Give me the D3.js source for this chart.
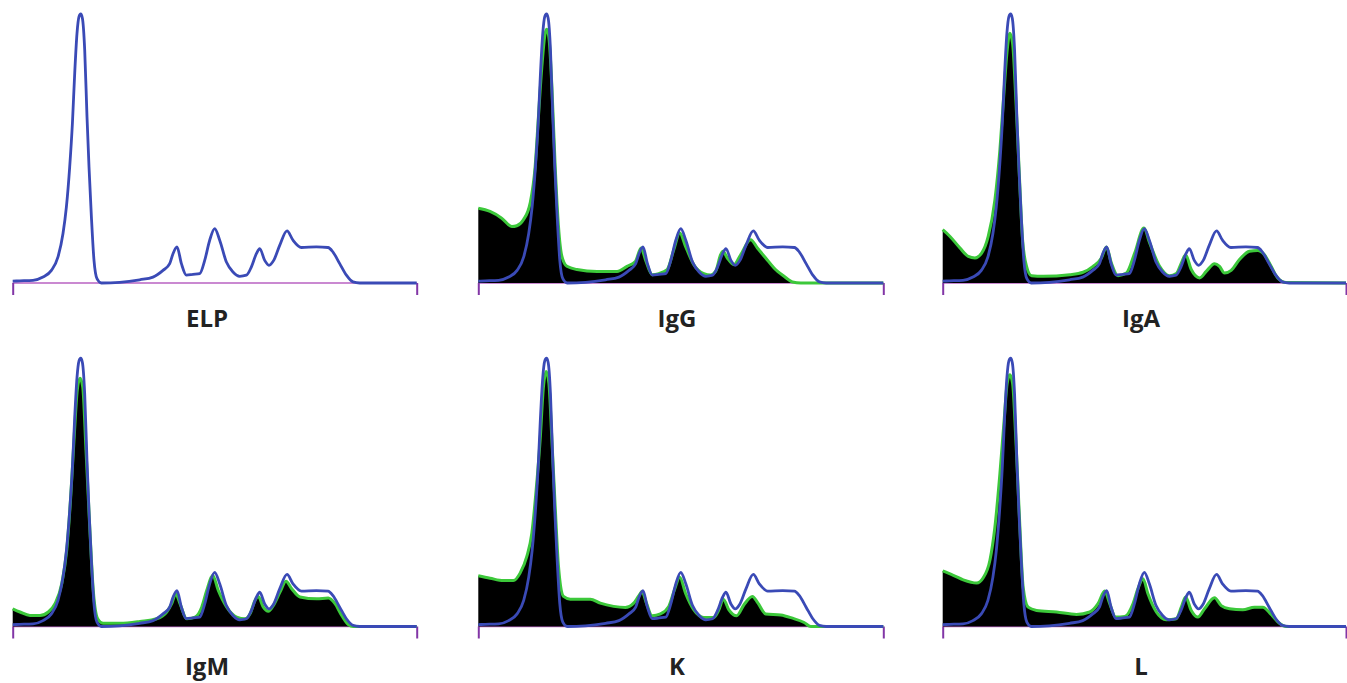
<!DOCTYPE html>
<html>
<head>
<meta charset="utf-8">
<script src="https://cdn.jsdelivr.net/npm/d3@7"></script>
<style>
  html, body { margin: 0; padding: 0; background: #ffffff; }
  svg { display: block; }
</style>
</head>
<body>
<svg id="chart" width="1347" height="683"></svg>
<script>
// ---------------- DATA (mobility units 0..404, relative height 0..100) ----------------
const panelNames = ["ELP", "IgG", "IgA", "IgM", "K", "L"];

// Reference electrophoresis profile (blue), same in every panel
const elpCurve = [
  [0,0.7],[7,0.8],[20.3,1.0],[30.3,2.2],[38.7,4.7],[45.3,9.7],[50.3,18.4],[53.7,28.3],[57,43.2],
  [59.7,59.3],[62,77.9],[64.3,92.8],[66.3,99.0],[68,100],[69.7,98.4],[72,86.6],[74.3,61.8],
  [76.3,43.2],[78.7,24.6],[81.3,8.4],[84.3,1.6],[88.7,0],[107,0.25],[127,1.2],[140.3,2.2],
  [150.3,4.7],[157,7.2],[160.3,10.9],[164.3,13.4],[168.7,7.2],[173.7,2.9],[180.3,3.2],[187,3.5],
  [192,8.4],[197,15.9],[202,20.2],[207,15.9],[213.7,7.8],[220.3,4.1],[227,2.5],[233.7,2.9],
  [238.7,6.0],[243.7,10.9],[247,12.8],[252,8.4],[256.3,6.6],[261,8.4],[267,14.0],[274.3,19.4],
  [280.3,15.9],[288.7,13.2],[303.7,13.4],[315.3,13.2],[320.3,11.5],[327,7.2],[333.7,2.9],
  [340.3,0.4],[347,0],[404,0]
];

// Immunofixation profiles (green line, black fill)
const igG = [
  [0,27.8],[11.7,26.6],[23.3,24.1],[33.4,21.0],[38.4,21.3],[45,23.5],[51.7,29.7],[56.7,43.3],
  [60,61.9],[63.4,80.4],[66.7,92.8],[68.4,94.3],[70.7,90.3],[73.4,73.0],[76.7,43.3],[80,21.0],
  [83.4,9.9],[88.4,6.2],[98.4,5.0],[118.4,4.3],[138.4,4.3],[148.4,6.2],[156.7,8.0],[162.4,13.0],
  [166.7,8.7],[173.4,3.1],[180,3.5],[188.4,5.0],[195,12.4],[201,18.6],[206.7,13.6],[215,6.8],
  [225,3.5],[231.7,3.0],[236.7,4.3],[241.7,10.5],[244,11.8],[248.4,9.3],[255,6.8],[261.7,10.5],
  [271.7,16.1],[278.4,13.0],[286.7,9.3],[295,5.6],[305,2.5],[313.4,0.4],[321.7,0],[404,0]
];
const igA = [
  [0,19.8],[7.3,17.3],[17.3,13.0],[25.6,9.9],[32.3,9.3],[39,11.1],[45.6,17.3],[52.3,30.9],
  [57.3,49.5],[61.3,70.5],[64.6,86.6],[67.3,92.8],[70,89.1],[73.3,68.1],[76.7,40.8],[80,16.1],
  [84,6.2],[89,2.7],[100.6,2.5],[127.3,3.1],[140.6,4.0],[150.6,6.2],[159,9.3],[164,13.4],
  [169,7.4],[175.6,2.7],[184,3.7],[192.3,11.1],[201.6,20.4],[207.3,14.9],[217.3,6.2],[227.3,2.7],
  [234,3.5],[239,7.4],[243.3,10.5],[249,5.0],[257.3,1.9],[264,4.3],[272.3,7.2],[277.3,6.2],
  [282.3,3.7],[289,4.7],[297.3,8.7],[307.3,11.8],[315.6,12.1],[322.3,10.5],[329,6.2],[335.6,1.9],
  [344,0.2],[404,0]
];
const igM = [
  [0,6.6],[7.3,5.4],[17.3,4.1],[27.3,4.1],[35.6,5.4],[42.3,8.5],[49,15.9],[54,28.4],[58,48.3],
  [61.3,69.5],[64.6,88.2],[67.3,92.5],[70,89.4],[73.3,65.8],[76.7,39.6],[80.6,13.4],[85,2.9],
  [90.6,1.2],[107.3,1.2],[127.3,1.9],[144,2.9],[154,5.4],[159,8.5],[163,12.2],[167.3,8.5],
  [174,2.9],[182.3,3.5],[189,7.2],[194,13.4],[200,19.1],[205.6,13.4],[214,7.2],[224,3.5],
  [232.3,2.9],[237.3,4.7],[242.3,9.7],[245.6,11.2],[250.6,7.2],[255.6,5.7],[260.6,7.8],
  [267.3,12.8],[273.3,16.9],[279,14.1],[287.3,11.0],[304,10.3],[315.6,10.6],[322.3,8.5],
  [329,4.1],[335.6,0.7],[340.6,0],[404,0]
];
const kappa = [
  [0,18.9],[11.7,18.0],[25,17.1],[35,17.1],[41.7,19.9],[48.4,26.1],[53.4,34.8],[57.7,50.9],
  [61.7,69.6],[65,89.4],[67.7,95.0],[70.4,90.7],[73.4,69.6],[76.7,44.7],[80,22.4],[85,11.2],
  [91.7,10.2],[111.7,10.2],[121.7,8.7],[135,7.5],[146.7,7.1],[155,8.7],[160,11.4],[163.4,13.0],
  [167.7,8.7],[173.4,4.0],[181.7,4.7],[190,7.5],[195.7,13.7],[201,18.4],[206.7,12.4],[215,6.2],
  [225,3.4],[235,3.4],[240,6.2],[244.4,10.2],[250,6.2],[257.7,4.0],[265,8.1],[273.4,11.2],
  [279,8.7],[286.7,4.7],[301.7,4.3],[313.4,3.1],[325,1.5],[331.7,0],[404,0]
];
const lambda = [
  [0,20.7],[10.6,19.1],[20.6,17.4],[34,16.2],[40.6,18.2],[47.3,24.7],[52.3,37.1],[57.3,57.0],
  [61.3,75.7],[64.6,90.7],[67.3,93.8],[70,90.7],[73.3,69.5],[76.7,42.1],[80.6,14.7],[85.6,7.2],
  [94,6.0],[114,5.4],[134,4.5],[147.3,5.4],[155.6,8.5],[162.3,13.2],[167.3,8.5],[173.3,3.5],
  [182.3,3.7],[190.6,8.5],[195.6,14.1],[200.6,17.8],[205.6,12.2],[214,5.4],[224,2.5],[234,2.9],
  [239,7.2],[243.3,11.0],[249,6.0],[255.6,3.5],[262.3,6.6],[272.3,10.7],[279,7.8],[287.3,6.6],
  [300.6,6.2],[312.3,7.2],[320.6,7.2],[329,4.5],[337.3,1.2],[344,0],[404,0]
];
const greenCurves = [null, igG, igA, igM, kappa, lambda];

// ---------------- LAYOUT ----------------
const colRanges = [[12.7, 416.7], [478.3, 883.3], [942.7, 1346]];
const rowRanges = [[283, 14], [626.5, 358.2]];
const labelX = [207, 677, 1141];
const labelY = [327, 675];

const colors = {
  blue: "#3a4ab6",
  green: "#3cc83a",
  fill: "#000000",
  baseline: "#b862c2",
  tick: "#8236a6",
  text: "#222222"
};

const svg = d3.select("#chart");

panelNames.forEach((name, i) => {
  const col = i % 3, row = Math.floor(i / 3);
  const x = d3.scaleLinear().domain([0, 404]).range(colRanges[col]);
  const y = d3.scaleLinear().domain([0, 100]).range(rowRanges[row]);
  const g = svg.append("g").attr("class", "panel panel-" + name);

  // baseline axis with end ticks
  const axis = d3.axisBottom(x).tickValues([0, 404]).tickSize(12).tickFormat("");
  const ax = g.append("g").attr("transform", `translate(0,${y(0)})`).call(axis);
  ax.select(".domain").attr("stroke", colors.baseline).attr("stroke-width", 1.3)
    .attr("d", `M${x(0)},0H${x(404)}`);
  ax.selectAll(".tick line").attr("stroke", colors.tick).attr("stroke-width", 2);

  const line = d3.line().x(d => x(d[0])).y(d => y(d[1])).curve(d3.curveMonotoneX);
  const area = d3.area().x(d => x(d[0])).y0(y(0)).y1(d => y(d[1])).curve(d3.curveMonotoneX);

  const gc = greenCurves[i];
  if (gc) {
    g.append("path").datum(gc).attr("d", area).attr("fill", colors.fill);
    g.append("path").datum(gc).attr("d", line).attr("fill", "none")
      .attr("stroke", colors.green).attr("stroke-width", 3).attr("stroke-linejoin", "round");
  }
  g.append("path").datum(elpCurve).attr("d", line).attr("fill", "none")
    .attr("stroke", colors.blue).attr("stroke-width", 2.8).attr("stroke-linejoin", "round");

  g.append("text")
    .attr("x", labelX[col]).attr("y", labelY[row])
    .attr("text-anchor", "middle")
    .attr("font-family", "'Open Sans', 'Noto Sans', sans-serif")
    .attr("font-weight", "bold")
    .attr("font-size", 24)
    .attr("fill", colors.text)
    .text(name);
});
</script>
</body>
</html>
